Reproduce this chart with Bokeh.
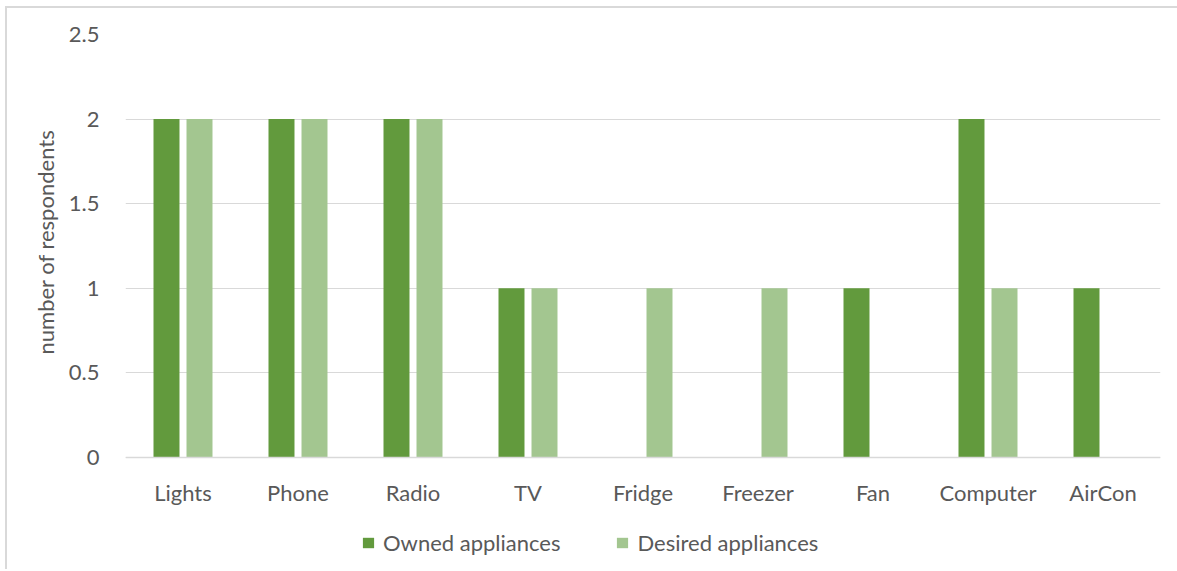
from bokeh.plotting import figure
from bokeh.models import (ColumnDataSource, Legend, LegendItem, FixedTicker,
                          CustomJSTickFormatter, Span, Title)
from bokeh.core.properties import value
from bokeh.transform import dodge
from bokeh.embed import file_html
from bokeh.resources import INLINE

# Appliances asked about, with counts of respondents
appliances = ["Lights", "Phone", "Radio", "TV", "Fridge", "Freezer", "Fan", "Computer", "AirCon"]
owned = [2, 2, 2, 1, 0, 0, 1, 2, 1]
desired = [2, 2, 2, 1, 1, 1, 0, 1, 0]
y_ticks = [0, 0.5, 1, 1.5, 2, 2.5]

OWNED_COLOR = "#629A3D"
DESIRED_COLOR = "#A3C690"
TEXT_COLOR = "#595959"
GRID_COLOR = "#D9D9D9"
FONT = "Lato"
FONT_SIZE = "22px"

# Value axis runs below zero so that the category names and the legend
# sit inside the plotting area, under the baseline.
Y_MIN, Y_MAX = -0.674, 2.5
CAT_LABEL_Y = -0.207

source = ColumnDataSource(dict(cat=appliances, owned=owned, desired=desired,
                               label_y=[CAT_LABEL_Y] * len(appliances)))

W, H = 1172, 563
p = figure(
    x_range=appliances, y_range=(Y_MIN, Y_MAX),
    width=W, height=H,
    output_backend="svg", toolbar_location=None,
    x_axis_location=None,
    min_border_left=118, min_border_right=19,
    min_border_top=26, min_border_bottom=0,
)
p.styles = {
    "border-top": "2px solid #D9D9D9",
    "border-left": "2px solid #D9D9D9",
    "margin-left": "5px",
    "margin-top": "6px",
}
p.outline_line_color = None
p.background_fill_color = "white"
p.border_fill_color = "white"

bar_w = 0.226
off = 0.1435
r_owned = p.vbar(x=dodge("cat", -off, range=p.x_range), top="owned", width=bar_w,
                 source=source, color=OWNED_COLOR, line_color=None)
r_desired = p.vbar(x=dodge("cat", off, range=p.x_range), top="desired", width=bar_w,
                   source=source, color=DESIRED_COLOR, line_color=None)

# Baseline and category names
p.add_layout(Span(location=0, dimension="width", line_color=GRID_COLOR, line_width=1.5))
p.text(x="cat", y="label_y", text="cat", source=source,
       text_font=value(FONT), text_font_size=value(FONT_SIZE), text_color=TEXT_COLOR,
       text_align="center", text_baseline="middle")

# Value axis
p.yaxis.ticker = FixedTicker(ticks=y_ticks)
p.yaxis.formatter = CustomJSTickFormatter(code="return String(tick);")
p.yaxis.axis_line_color = None
p.yaxis.major_tick_line_color = None
p.yaxis.minor_tick_line_color = None
p.yaxis.major_label_standoff = 20
p.yaxis.major_label_text_font = FONT
p.yaxis.major_label_text_font_size = FONT_SIZE
p.yaxis.major_label_text_color = TEXT_COLOR

p.ygrid.grid_line_color = GRID_COLOR
p.ygrid.grid_line_width = 1
p.xgrid.grid_line_color = None

# Axis title, centred on the 0 to 2.5 span rather than the whole area
p.add_layout(Title(text="number of respondents", align="left", offset=217,
                   text_font=FONT, text_font_size=FONT_SIZE, text_color=TEXT_COLOR,
                   text_font_style="normal", standoff=13), "left")

legend = Legend(
    items=[LegendItem(label="Owned appliances", renderers=[r_owned]),
           LegendItem(label="Desired appliances", renderers=[r_desired])],
    orientation="horizontal",
    location=(236, 15),
    label_text_font=FONT, label_text_font_size=FONT_SIZE, label_text_color=TEXT_COLOR,
    glyph_width=14, glyph_height=13, label_standoff=8, spacing=55,
    border_line_color=None, background_fill_alpha=0,
    padding=0, margin=0,
)
p.add_layout(legend, "center")

open("out.html", "w").write(file_html(p, INLINE))
